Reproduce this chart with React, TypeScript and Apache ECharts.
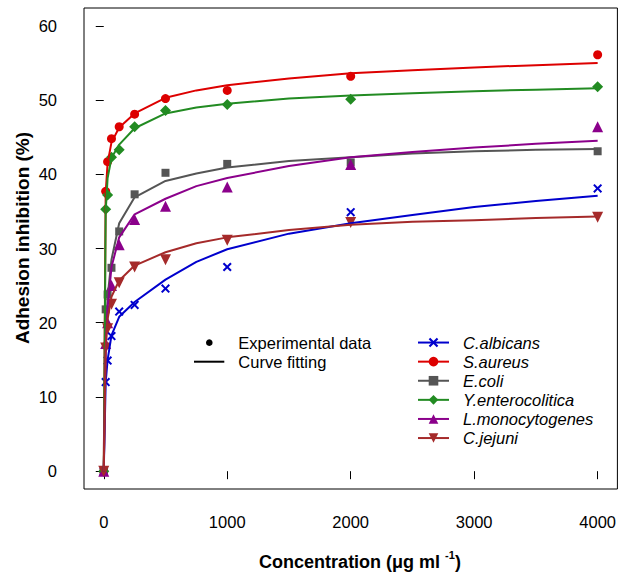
import React, { useEffect, useRef } from 'react';
import * as echarts from 'echarts';

const FONT = '"Liberation Sans", Arial, Helvetica, sans-serif';

// Experimental concentrations (µg/ml)
const concentrations = [0, 15.6, 31.25, 62.5, 125, 250, 500, 1000, 2000, 4000];

// Experimental adhesion inhibition (%)
const albicansData = [0, 12.0, 14.9, 18.2, 21.5, 22.4, 24.6, 27.5, 34.9, 38.1];
const aureusData = [0, 37.7, 41.7, 44.8, 46.4, 48.1, 50.2, 51.3, 53.2, 56.1];
const coliData = [0, 21.8, 23.8, 27.4, 32.3, 37.3, 40.2, 41.4, 41.6, 43.1];
const enteroData = [0, 35.3, 37.2, 42.3, 43.3, 46.4, 48.6, 49.4, 50.1, 51.8];
const monoData = [0, 17.2, 20.0, 25.0, 30.5, 33.9, 35.7, 38.3, 41.3, 46.4];
const jejuniData = [0, 16.6, 19.2, 22.5, 25.4, 27.5, 28.5, 31.1, 33.5, 34.2];

// Fitted curves
const fitX = [0, 15.6, 31.25, 62.5, 125, 250, 500, 750, 1000, 1500, 2000, 2500, 3000, 3500, 4000];
const albicansFit = [0, 12, 15, 18.3, 20.8, 22.8, 25.8, 28.2, 29.9, 32.0, 33.4, 34.5, 35.6, 36.4, 37.1];
const aureusFit = [0, 37.5, 41.5, 44.3, 46.3, 48.2, 50.3, 51.3, 52.0, 52.9, 53.6, 54.0, 54.4, 54.7, 55.0];
const coliFit = [0, 18, 23.5, 28.5, 33.4, 36.9, 39.1, 40.1, 40.9, 41.8, 42.3, 42.8, 43.1, 43.3, 43.4];
const enteroFit = [0, 35.0, 39.5, 42.2, 44.0, 46.2, 48.2, 49.0, 49.5, 50.2, 50.6, 50.9, 51.2, 51.4, 51.6];
const monoFit = [0, 16, 22, 27.5, 31.5, 34.6, 36.7, 38.4, 39.5, 41.1, 42.3, 43.0, 43.6, 44.1, 44.5];
const jejuniFit = [0, 17, 20.5, 23.5, 25.7, 27.7, 29.5, 30.7, 31.5, 32.5, 33.2, 33.6, 33.8, 34.1, 34.3];

const speciesNames = ['C.albicans', 'S.aureus', 'E.coli', 'Y.enterocolitica', 'L.monocytogenes', 'C.jejuni'];
const xTicks = [0, 1000, 2000, 3000, 4000];
const yTicks = [0, 10, 20, 30, 40, 50, 60];

const CROSS = 'path://M0,1.6L1.6,0L5,3.4L8.4,0L10,1.6L6.6,5L10,8.4L8.4,10L5,6.6L1.6,10L0,8.4L3.4,5Z';

const styles = [
  { color: '#0000CD', symbol: CROSS, size: 9, rotate: 0 },
  { color: '#DD0000', symbol: 'circle', size: 9, rotate: 0 },
  { color: '#555555', symbol: 'rect', size: 8, rotate: 0 },
  { color: '#228B22', symbol: 'diamond', size: 11, rotate: 0 },
  { color: '#8B008B', symbol: 'triangle', size: 11, rotate: 0 },
  { color: '#A52A2A', symbol: 'triangle', size: 11, rotate: 180 },
];

const dataSets = [albicansData, aureusData, coliData, enteroData, monoData, jejuniData];
const fitSets = [albicansFit, aureusFit, coliFit, enteroFit, monoFit, jejuniFit];

function buildSeries() {
  const series: any[] = [];
  speciesNames.forEach((name, i) => {
    const st = styles[i];
    series.push({
      name,
      type: 'line',
      data: fitX.map((x, k) => [x, fitSets[i][k]]),
      smooth: false,
      showSymbol: false,
      symbol: st.symbol,
      symbolSize: st.size,
      symbolRotate: st.rotate,
      lineStyle: { color: st.color, width: 2, join: 'round' },
      itemStyle: { color: st.color },
      emphasis: { disabled: true },
      silent: true,
    });
    series.push({
      name: name + ' data',
      type: 'scatter',
      data: concentrations.map((x, k) => [x, dataSets[i][k]]),
      symbol: st.symbol,
      symbolSize: st.size,
      symbolRotate: st.rotate,
      itemStyle: { color: st.color, opacity: 1 },
      emphasis: { disabled: true },
      silent: true,
    });
  });
  return series;
}

export default function App() {
  const ref = useRef<HTMLDivElement>(null);
  useEffect(() => {
    const chart = echarts.init(ref.current!, null, { renderer: 'svg' });
    const option: any = {
      animation: false,
      backgroundColor: '#ffffff',
      textStyle: { fontFamily: FONT },
      grid: {
        left: 84,
        right: 1,
        top: 8,
        bottom: 88,
        show: true,
        borderColor: '#000',
        borderWidth: 1,
        backgroundColor: 'transparent',
        containLabel: false,
      },
      xAxis: {
        type: 'value',
        min: -160,
        max: 4160,
        axisLine: { show: false },
        splitLine: { show: false },
        axisTick: { show: true, inside: false, length: 8, customValues: xTicks, lineStyle: { color: '#000', width: 1 } },
        axisLabel: {
          customValues: xTicks,
          formatter: (v: number) => String(v),
          fontSize: 16.5,
          margin: 24,
          color: '#000',
          fontFamily: FONT,
        },
      },
      yAxis: {
        type: 'value',
        min: -2.4,
        max: 62.4,
        axisLine: { show: false },
        splitLine: { show: false },
        axisTick: { show: true, inside: false, length: 8, customValues: yTicks, lineStyle: { color: '#000', width: 1 } },
        axisLabel: {
          customValues: yTicks,
          formatter: (v: number) => String(v),
          fontSize: 16.5,
          margin: 27,
          color: '#000',
          fontFamily: FONT,
        },
      },
      legend: {
        data: speciesNames,
        orient: 'vertical',
        left: 417,
        top: 333,
        itemWidth: 31,
        itemHeight: 12,
        itemGap: 0,
        selectedMode: false,
        padding: 0,
        textStyle: {
          fontSize: 16.5,
          fontStyle: 'italic',
          fontFamily: FONT,
          color: '#000',
          lineHeight: 19.1,
          padding: [0, 0, 0, 9],
        },
      },
      graphic: [
        { type: 'circle', shape: { cx: 209.3, cy: 342.7, r: 3.3 }, style: { fill: '#000' }, silent: true },
        { type: 'line', shape: { x1: 194, y1: 361.7, x2: 224.3, y2: 361.7 }, style: { stroke: '#000', lineWidth: 2 }, silent: true },
        {
          type: 'text', x: 238.3, y: 342.7, silent: true,
          style: { text: 'Experimental data', fontSize: 16.5, fontFamily: FONT, fill: '#000', verticalAlign: 'middle', align: 'left' },
        },
        {
          type: 'text', x: 238.3, y: 362, silent: true,
          style: { text: 'Curve fitting', fontSize: 16.5, fontFamily: FONT, fill: '#000', verticalAlign: 'middle', align: 'left' },
        },
        {
          type: 'text', x: 22, y: 238, rotation: Math.PI / 2, silent: true,
          style: { text: 'Adhesion inhibition (%)', fontSize: 19, fontWeight: 'bold', fontFamily: FONT, fill: '#000', align: 'center', verticalAlign: 'middle' },
        },
        {
          type: 'text', x: 360, y: 560, silent: true,
          style: {
            text: '{a|Concentration (μg ml }{s|-1}{a|)}',
            align: 'center',
            verticalAlign: 'middle',
            rich: {
              a: { fontSize: 18, fontWeight: 'bold', fontFamily: FONT, fill: '#000', lineHeight: 22, verticalAlign: 'bottom' },
              s: { fontSize: 11, fontWeight: 'bold', fontFamily: FONT, fill: '#000', lineHeight: 22, verticalAlign: 'top', padding: [0, 0, 6, 0] },
            },
          },
        },
      ],
      series: buildSeries(),
    };
    chart.setOption(option);
    return () => chart.dispose();
  }, []);
  return (
    <div
      ref={ref}
      style={{ position: 'fixed', left: 0, top: 0, width: 619, height: 577, background: '#fff' }}
    />
  );
}
